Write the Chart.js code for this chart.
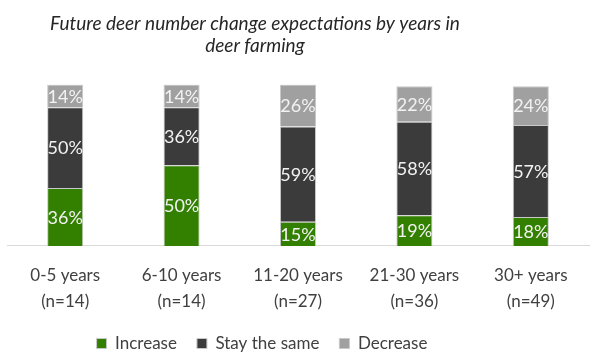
<!DOCTYPE html>
<html>
<head>
<meta charset="utf-8">
<script src="https://cdn.jsdelivr.net/npm/chart.js@4"></script>
<style>
  html, body { margin: 0; padding: 0; background: #fff; }
  #wrap { width: 600px; height: 362px; }
</style>
</head>
<body>
<div id="wrap"><canvas id="deerChart"></canvas></div>
<script>
var categories = [["0-5 years", "(n=14)"], ["6-10 years", "(n=14)"], ["11-20 years", "(n=27)"], ["21-30 years", "(n=36)"], ["30+ years", "(n=49)"]];
var increase = [36, 50, 15, 19, 18];
var staySame = [50, 36, 59, 58, 57];
var decrease = [14, 14, 26, 22, 24];
var seriesNames = ["Increase", "Stay the same", "Decrease"];
var titleLines = ["Future deer number change expectations by years in", "deer farming"];

var FONT = "Lato, 'Open Sans', sans-serif";

// 값 라벨을 막대 안 가운데에 그립니다.
var barLabels = {
    id: 'barLabels',
    afterDatasetsDraw: function (chart) {
        var ctx = chart.ctx;
        ctx.save();
        ctx.font = "18px " + FONT;
        ctx.fillStyle = "#f2f2f2";
        ctx.textAlign = "center";
        ctx.textBaseline = "middle";
        chart.data.datasets.forEach(function (ds, i) {
            chart.getDatasetMeta(i).data.forEach(function (bar, j) {
                ctx.fillText(ds.data[j] + "%", bar.x, (bar.y + bar.base) / 2 + 1);
            });
        });
        ctx.restore();
    }
};

// 제목과 범례를 원본처럼 왼쪽으로 조금 옮깁니다.
var shiftBoxes = {
    id: 'shiftBoxes',
    afterLayout: function (chart) {
        [[chart.titleBlock, -43], [chart.legend, -36]].forEach(function (b) {
            if (b[0]) {
                b[0].left += b[1];
                b[0].right += b[1];
            }
        });
    }
};

var ctx = document.getElementById('deerChart').getContext('2d');
new Chart(ctx, {
    type: 'bar',
    data: {
        labels: categories,
        datasets: [
            { label: seriesNames[0], data: increase, backgroundColor: "#338000" },
            { label: seriesNames[1], data: staySame, backgroundColor: "#3b3b3b" },
            { label: seriesNames[2], data: decrease, backgroundColor: "#a0a0a0" }
        ]
    },
    options: {
        responsive: true,
        maintainAspectRatio: false,
        animation: false,
        datasets: {
            bar: {
                borderColor: "#c8c8c8",
                borderWidth: 1,
                barPercentage: 0.31,
                categoryPercentage: 1
            }
        },
        layout: { padding: { left: 7, right: 11, top: 4, bottom: 0 } },
        plugins: {
            title: {
                display: true,
                text: titleLines,
                color: "#262626",
                font: { family: FONT, size: 19, style: "italic", weight: "normal", lineHeight: 1.2 },
                padding: { top: 8, bottom: 27 }
            },
            legend: {
                position: 'bottom',
                labels: {
                    boxWidth: 10,
                    boxHeight: 10,
                    color: "#404040",
                    font: { family: FONT, size: 17, lineHeight: 1.0 },
                    padding: 20
                }
            },
            tooltip: { enabled: false }
        },
        scales: {
            x: {
                stacked: true,
                grid: { display: false },
                border: { color: "#d9d9d9", width: 1 },
                ticks: {
                    color: "#404040",
                    font: { family: FONT, size: 17, lineHeight: 1.53 },
                    padding: 9,
                    maxRotation: 0
                },
                // 마지막 줄 아래 빈 공간을 줄입니다.
                afterFit: function (scale) {
                    scale.height -= 9;
                }
            },
            y: {
                stacked: true,
                display: false,
                min: 0,
                max: 100
            }
        }
    },
    plugins: [barLabels, shiftBoxes]
});
</script>
</body>
</html>
